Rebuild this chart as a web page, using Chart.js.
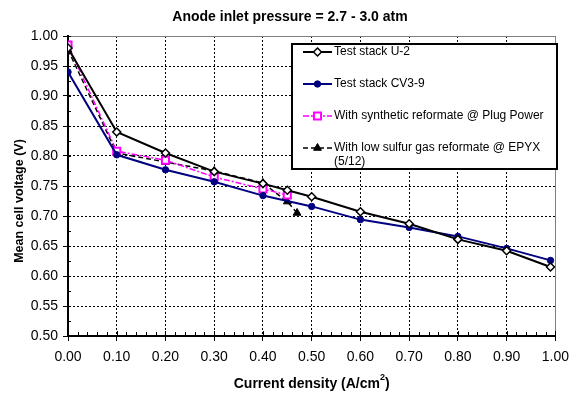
<!DOCTYPE html>
<html>
<head>
<meta charset="utf-8">
<script src="https://cdn.jsdelivr.net/npm/chart.js"></script>
<style>
  body { margin: 0; background: #fff; }
  canvas { display: block; }
</style>
</head>
<body>
<canvas id="chart" width="577" height="399"></canvas>
<script>
const FONT = '"Liberation Sans", Arial, sans-serif';

const chartTitle = 'Anode inlet pressure = 2.7 - 3.0 atm';
const xTickLabels = ['0.00', '0.10', '0.20', '0.30', '0.40', '0.50', '0.60', '0.70', '0.80', '0.90', '1.00'];
const yTickLabels = ['0.50', '0.55', '0.60', '0.65', '0.70', '0.75', '0.80', '0.85', '0.90', '0.95', '1.00'];

const seriesNames = [
  'Test stack U-2',
  'Test stack CV3-9',
  'With synthetic reformate @ Plug Power',
  'With low sulfur gas reformate @ EPYX (5/12)'
];

const currentU2 = [0, 0.1, 0.2, 0.3, 0.4, 0.45, 0.5, 0.6, 0.7, 0.8, 0.9, 0.99];
const voltU2 = [0.98, 0.84, 0.805, 0.774, 0.754, 0.743, 0.732, 0.707, 0.687, 0.661, 0.642, 0.615];

const currentCV = [0, 0.1, 0.2, 0.3, 0.4, 0.5, 0.6, 0.7, 0.8, 0.9, 0.99];
const voltCV = [0.94, 0.802, 0.777, 0.757, 0.734, 0.716, 0.694, 0.681, 0.666, 0.646, 0.626];

const currentSyn = [0, 0.1, 0.2, 0.3, 0.4, 0.45];
const voltSyn = [0.985, 0.808, 0.793, 0.765, 0.745, 0.735];

const currentEpyx = [0, 0.1, 0.2, 0.3, 0.4, 0.45, 0.47];
const voltEpyx = [0.977, 0.805, 0.79, 0.775, 0.755, 0.724, 0.705];

function pairs(xs, ys) {
  return xs.map((x, i) => ({ x: x, y: ys[i] }));
}

// legend row text (EPYX label wraps onto two lines)
const legendRows = [
  ['Test stack U-2'],
  ['Test stack CV3-9'],
  ['With synthetic reformate @ Plug Power'],
  ['With low sulfur gas reformate @ EPYX', '(5/12)']
];

function drawMarker(ctx, style, x, y, r, fill, stroke, lw) {
  ctx.save();
  ctx.setLineDash([]);
  ctx.fillStyle = fill;
  ctx.strokeStyle = stroke;
  ctx.lineWidth = lw;
  ctx.beginPath();
  if (style === 'circle') {
    ctx.arc(x, y, r, 0, Math.PI * 2);
  } else if (style === 'rectRot') {
    ctx.moveTo(x, y - r); ctx.lineTo(x + r, y); ctx.lineTo(x, y + r); ctx.lineTo(x - r, y);
    ctx.closePath();
  } else if (style === 'rect') {
    const s = r * Math.SQRT1_2;
    ctx.rect(x - s, y - s, 2 * s, 2 * s);
  } else if (style === 'triangle') {
    ctx.moveTo(x, y - r);
    ctx.lineTo(x + r * 0.87, y + r * 0.5);
    ctx.lineTo(x - r * 0.87, y + r * 0.5);
    ctx.closePath();
  }
  ctx.fill();
  if (lw > 0) ctx.stroke();
  ctx.restore();
}

const boxLegend = {
  id: 'boxLegend',
  beforeDatasetsDraw(chart) {
    const ctx = chart.ctx;
    const l = 292, t = 44, r = 557, b = 169;
    const rowY = [52, 84, 116, 148];
    ctx.save();
    ctx.fillStyle = '#fff';
    ctx.fillRect(l, t, r - l, b - t);
    ctx.lineWidth = 2;
    ctx.strokeStyle = '#000';
    ctx.strokeRect(l, t, r - l, b - t);
    ctx.font = '12px ' + FONT;
    ctx.textBaseline = 'middle';
    chart.data.datasets.forEach((ds, i) => {
      const y = rowY[i];
      ctx.save();
      ctx.strokeStyle = ds.borderColor;
      ctx.lineWidth = ds.borderWidth;
      ctx.setLineDash(ds.borderDash || []);
      ctx.beginPath();
      ctx.moveTo(303, y);
      ctx.lineTo(332, y);
      ctx.stroke();
      ctx.restore();
      drawMarker(ctx, ds.pointStyle, 317.5, y, ds.pointRadius, ds.pointBackgroundColor, ds.pointBorderColor, ds.pointBorderWidth);
      legendRows[i].forEach((txt, k) => {
        ctx.fillStyle = '#000';
        ctx.fillText(txt, 334, y + k * 13.5);
      });
    });
    ctx.restore();
  }
};

const axisExtras = {
  id: 'axisExtras',
  afterDraw(chart) {
    const { ctx, chartArea: a, scales: { x, y } } = chart;
    ctx.save();
    ctx.strokeStyle = '#000';
    ctx.lineWidth = 1;
    ctx.beginPath();
    // minor + inner major ticks on the x axis (every 0.02)
    for (let k = 0; k <= 50; k++) {
      const px = Math.round(x.getPixelForValue(k / 50)) + 0.5;
      const len = k % 5 === 0 ? 5 : 4;
      ctx.moveTo(px, a.bottom);
      ctx.lineTo(px, a.bottom - len);
    }
    // minor + inner major ticks on the y axis (every 0.025)
    for (let k = 0; k <= 20; k++) {
      const py = Math.round(y.getPixelForValue(0.5 + k * 0.025)) + 0.5;
      ctx.moveTo(a.left, py);
      ctx.lineTo(a.left + 3, py);
    }
    ctx.stroke();

    ctx.fillStyle = '#000';
    ctx.textBaseline = 'middle';

    // chart title
    ctx.textAlign = 'center';
    ctx.font = 'bold 14px ' + FONT;
    ctx.fillText(chartTitle, 290, 17);

    // x axis title with superscript
    const cx = (a.left + a.right) / 2;
    const main = 'Current density (A/cm';
    const w1 = ctx.measureText(main).width;
    ctx.font = 'bold 9px ' + FONT;
    const w2 = ctx.measureText('2').width;
    ctx.font = 'bold 14px ' + FONT;
    const w3 = ctx.measureText(')').width;
    const start = cx - (w1 + w2 + w3) / 2;
    ctx.textAlign = 'left';
    ctx.fillText(main, start, 384);
    ctx.font = 'bold 9px ' + FONT;
    ctx.fillText('2', start + w1, 378);
    ctx.font = 'bold 14px ' + FONT;
    ctx.fillText(')', start + w1 + w2, 384);

    // y axis title
    ctx.translate(20, 201);
    ctx.rotate(-Math.PI / 2);
    ctx.textAlign = 'center';
    ctx.font = 'bold 12.5px ' + FONT;
    ctx.fillText('Mean cell voltage (V)', 0, 0);
    ctx.restore();
  }
};

function gridColor(ctx) {
  const n = ctx.scale.ticks.length;
  if (ctx.index === 0) return 'rgba(0,0,0,0)';
  if (ctx.index === n - 1) return '#808080';
  return '#000';
}
function gridDash(ctx) {
  const n = ctx.scale.ticks.length;
  if (ctx.index === n - 1) return [];
  return [2, 2];
}

const chart = new Chart(document.getElementById('chart').getContext('2d'), {
  type: 'line',
  data: {
    datasets: [
      {
        label: seriesNames[0],
        data: pairs(currentU2, voltU2),
        borderColor: '#000',
        borderWidth: 2,
        pointStyle: 'rectRot',
        pointRadius: 4,
        pointBackgroundColor: '#fff',
        pointBorderColor: '#000',
        pointBorderWidth: 1.5
      },
      {
        label: seriesNames[1],
        data: pairs(currentCV, voltCV),
        borderColor: '#000080',
        borderWidth: 2,
        pointStyle: 'circle',
        pointRadius: 3.2,
        pointBackgroundColor: '#000080',
        pointBorderColor: '#000080',
        pointBorderWidth: 1
      },
      {
        label: seriesNames[2],
        data: pairs(currentSyn, voltSyn),
        borderColor: '#ff00ff',
        borderWidth: 1.5,
        borderDash: [6, 2, 2, 2],
        pointStyle: 'rect',
        pointRadius: 5,
        pointBackgroundColor: '#fff',
        pointBorderColor: '#ff00ff',
        pointBorderWidth: 2
      },
      {
        label: seriesNames[3],
        data: pairs(currentEpyx, voltEpyx),
        borderColor: '#000',
        borderWidth: 1.5,
        borderDash: [5, 3],
        pointStyle: 'triangle',
        pointRadius: 4.5,
        pointBackgroundColor: '#000',
        pointBorderColor: '#000',
        pointBorderWidth: 1
      }
    ]
  },
  options: {
    responsive: false,
    animation: false,
    layout: { padding: { left: 0, right: 15, top: 36, bottom: 0 } },
    elements: { line: { tension: 0 } },
    plugins: {
      legend: { display: false },
      tooltip: { enabled: false },
      title: { display: false }
    },
    scales: {
      x: {
        type: 'linear',
        min: 0,
        max: 1,
        afterFit: s => { s.height = 63; },
        ticks: {
          stepSize: 0.1,
          color: '#000',
          font: { family: FONT, size: 14 },
          padding: 8,
          maxRotation: 0,
          callback: (v, i) => xTickLabels[i]
        },
        grid: {
          color: gridColor,
          lineWidth: 1,
          drawTicks: true,
          tickLength: 5,
          tickColor: '#000',
          tickWidth: 1
        },
        border: { display: true, color: '#000', width: 2, dash: gridDash }
      },
      y: {
        type: 'linear',
        min: 0.5,
        max: 1.0,
        afterFit: s => { s.width = 68; },
        ticks: {
          stepSize: 0.05,
          color: '#000',
          font: { family: FONT, size: 14 },
          padding: 5,
          callback: (v, i) => yTickLabels[i]
        },
        grid: {
          color: gridColor,
          lineWidth: 1,
          drawTicks: true,
          tickLength: 5,
          tickColor: '#000',
          tickWidth: 1
        },
        border: { display: true, color: '#000', width: 2, dash: gridDash }
      }
    }
  },
  plugins: [boxLegend, axisExtras]
});
</script>
</body>
</html>
